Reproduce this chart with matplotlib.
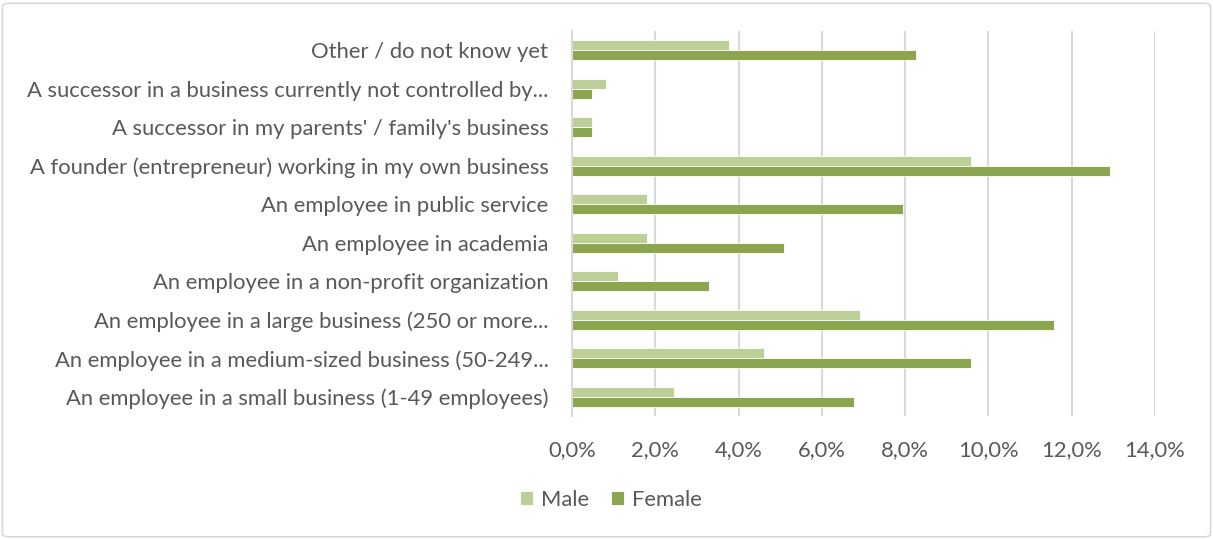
import numpy as np
import matplotlib
matplotlib.use("Agg")
import matplotlib.pyplot as plt
from matplotlib.patches import FancyBboxPatch
from matplotlib.ticker import FuncFormatter

# career choice shares by gender (top to bottom as shown)
categories = [
    "Other / do not know yet",
    "A successor in a business currently not controlled by...",
    "A successor in my parents' / family's business",
    "A founder (entrepreneur) working in my own business",
    "An employee in public service",
    "An employee in academia",
    "An employee in a non-profit organization",
    "An employee in a large business (250 or more...",
    "An employee in a medium-sized business (50-249...",
    "An employee in a small business (1-49 employees)",
]
male = [3.78, 0.81, 0.48, 9.57, 1.80, 1.80, 1.11, 6.92, 4.60, 2.45]
female = [8.25, 0.48, 0.48, 12.91, 7.94, 5.10, 3.28, 11.58, 9.57, 6.77]
xticks = [0, 2, 4, 6, 8, 10, 12, 14]

male_col = "#bbcf96"
female_col = "#8ba64f"
text_col = "#595959"

plt.rcParams["font.family"] = ["Lato", "DejaVu Sans"]

fig = plt.figure(figsize=(12.13, 5.39), dpi=100)
ax = fig.add_axes([0.4716, 0.2282, 0.4806, 0.7143])

n = len(categories)
y = np.arange(n)[::-1]
h = 0.265
ax.barh(y + h / 2, male, height=h, color=male_col, edgecolor="white", linewidth=0.6, label="Male", zorder=3)
ax.barh(y - h / 2, female, height=h, color=female_col, edgecolor="white", linewidth=0.6, label="Female", zorder=3)

ax.set_xlim(0, 14)
ax.set_ylim(-0.5, n - 0.5)
ax.set_xticks(xticks)
ax.xaxis.set_major_formatter(FuncFormatter(lambda v, p: f"{v:.1f}%".replace(".", ",")))
ax.set_yticks(y)
ax.set_yticklabels(categories)
ax.tick_params(axis="both", length=0, labelsize=15.8, colors=text_col)
ax.tick_params(axis="x", pad=17)
ax.tick_params(axis="y", pad=17)

ax.grid(axis="x", color="#d9d9d9", linewidth=1.5, zorder=0)
for s in ["top", "right", "bottom"]:
    ax.spines[s].set_visible(False)
ax.spines["left"].set_color("#d9d9d9")
ax.spines["left"].set_linewidth(1.5)
ax.spines["left"].set_zorder(4)

leg = fig.legend(loc="center", bbox_to_anchor=(0.5035, 0.072), ncol=2, frameon=False,
                 fontsize=15.8, handlelength=0.6, handleheight=0.6, handletextpad=0.35,
                 columnspacing=1.0)
for t in leg.get_texts():
    t.set_color(text_col)

# thin rounded border around the chart area
border = FancyBboxPatch((0.002, 0.004), 0.996, 0.99, boxstyle="round,pad=0,rounding_size=0.006",
                        transform=fig.transFigure, fill=False, edgecolor="#d9d9d9", linewidth=1.2)
fig.patches.append(border)

fig.savefig("out.png", dpi=100)
